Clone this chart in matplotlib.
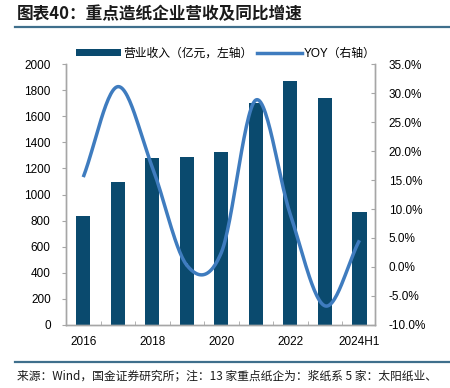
import numpy as np
import matplotlib
matplotlib.use("Agg")
import matplotlib.pyplot as plt
import matplotlib.ticker as mticker
from matplotlib.lines import Line2D
from matplotlib.patches import Patch

plt.rcParams["font.family"] = ["Liberation Sans", "Noto Sans CJK SC", "DejaVu Sans"]

# Datos
categorias = ["2016", "2017", "2018", "2019", "2020", "2021", "2022", "2023", "2024H1"]
ingresos   = [835, 1093, 1277, 1287, 1326, 1703, 1872, 1739, 868]     # 亿元
yoy        = [15.5, 31.1, 17.2, 0.3, 2.5, 28.8, 9.0, -6.7, 4.6]        # %
etiquetas_x = ["2016", "", "2018", "", "2020", "", "2022", "", "2024H1"]

BAR = "#0A4A6E"
LINE = "#3F7CBF"
GRIS = "#A6A6A6"


def suavizar(x, y, n=30):
    # curva suavizada tipo Excel (Catmull-Rom)
    x = np.asarray(x, float)
    y = np.asarray(y, float)
    px = np.concatenate([[2 * x[0] - x[1]], x, [2 * x[-1] - x[-2]]])
    py = np.concatenate([[2 * y[0] - y[1]], y, [2 * y[-1] - y[-2]]])
    xs, ys = [], []
    for i in range(1, len(px) - 2):
        t = np.linspace(0, 1, n)
        for arr, out in ((px, xs), (py, ys)):
            p0, p1, p2, p3 = arr[i - 1], arr[i], arr[i + 1], arr[i + 2]
            out.extend(0.5 * ((2 * p1) + (-p0 + p2) * t
                              + (2 * p0 - 5 * p1 + 4 * p2 - p3) * t ** 2
                              + (-p0 + 3 * p1 - 3 * p2 + p3) * t ** 3))
    return np.array(xs), np.array(ys)


fig = plt.figure(figsize=(4.5, 3.88), dpi=100, facecolor="white")
ax = fig.add_axes([0.1467, 0.1624, 0.8333 - 0.1467, 0.835 - 0.1624])
ax2 = ax.twinx()

x = np.arange(len(categorias))
ax.bar(x, ingresos, width=0.41, color=BAR, zorder=2)
ax.set_ylim(0, 2000)
ax.set_yticks(range(0, 2001, 200))
ax.set_xlim(-0.5, 8.45)
ax.set_xticks(x)
ax.set_xticklabels(etiquetas_x)
ax.set_xticks(x[:-1] + 0.5, minor=True)
ax.tick_params(axis="x", which="major", length=0, pad=8, labelsize=8.5)
ax.tick_params(axis="x", which="minor", length=3, direction="in", color=GRIS)
ax.tick_params(axis="y", length=3, direction="out", color=GRIS, pad=8, labelsize=8.5)

xs, ys = suavizar(x, yoy)
ax2.plot(xs, ys, color=LINE, linewidth=2.5, solid_capstyle="butt", zorder=3)
ax2.set_ylim(-10, 35)
ax2.set_yticks(range(-10, 36, 5))
ax2.yaxis.set_major_formatter(mticker.FuncFormatter(lambda v, _: f"{v:.1f}%"))
ax2.tick_params(axis="y", length=3, direction="in", color=GRIS, pad=10, labelsize=8.5)

for a in (ax, ax2):
    a.spines["top"].set_visible(False)
    for s in ("left", "right", "bottom"):
        a.spines[s].set_color(GRIS)
        a.spines[s].set_linewidth(1.0)
ax.set_zorder(ax2.get_zorder() - 1)
ax.patch.set_visible(True)
ax2.patch.set_visible(False)

# Leyenda (dos partes, colocadas por separado)
fig.legend([Patch(facecolor=BAR, edgecolor="none")], ["营业收入（亿元，左轴）"],
           loc="center left", bbox_to_anchor=(76 / 450, 1 - 54 / 388),
           frameon=False, fontsize=8.5, handlelength=3.8, handleheight=0.55,
           handletextpad=0.2, borderaxespad=0, borderpad=0)
fig.legend([Line2D([0], [0], color=LINE, linewidth=2.5)], ["YOY（右轴）"],
           loc="center left", bbox_to_anchor=(257 / 450, 1 - 54 / 388),
           frameon=False, fontsize=8.5, handlelength=3.8,
           handletextpad=0.2, borderaxespad=0, borderpad=0)

# Titulo y notas
fig.text(17 / 450, 1 - 14 / 388, "图表40：重点造纸企业营收及同比增速",
         fontsize=12, fontweight="bold", color="#1a1a1a", va="center", ha="left",
         family=["Noto Sans CJK SC", "DejaVu Sans"])
fig.add_artist(Line2D([15 / 450, 1], [1 - 26.5 / 388] * 2, color="#3F6F8C",
                      linewidth=1.6, transform=fig.transFigure))
fig.add_artist(Line2D([15 / 450, 1], [1 - 362 / 388] * 2, color="#3F6F8C",
                      linewidth=1.6, transform=fig.transFigure))
fig.text(17 / 450, 1 - 376 / 388,
         "来源：Wind，国金证券研究所；注：13 家重点纸企为：浆纸系 5 家：太阳纸业、",
         fontsize=8.5, color="#1a1a1a", va="center", ha="left",
         family=["Noto Sans CJK SC", "DejaVu Sans"])

plt.savefig("out.png", dpi=100, facecolor="white")
plt.close(fig)
